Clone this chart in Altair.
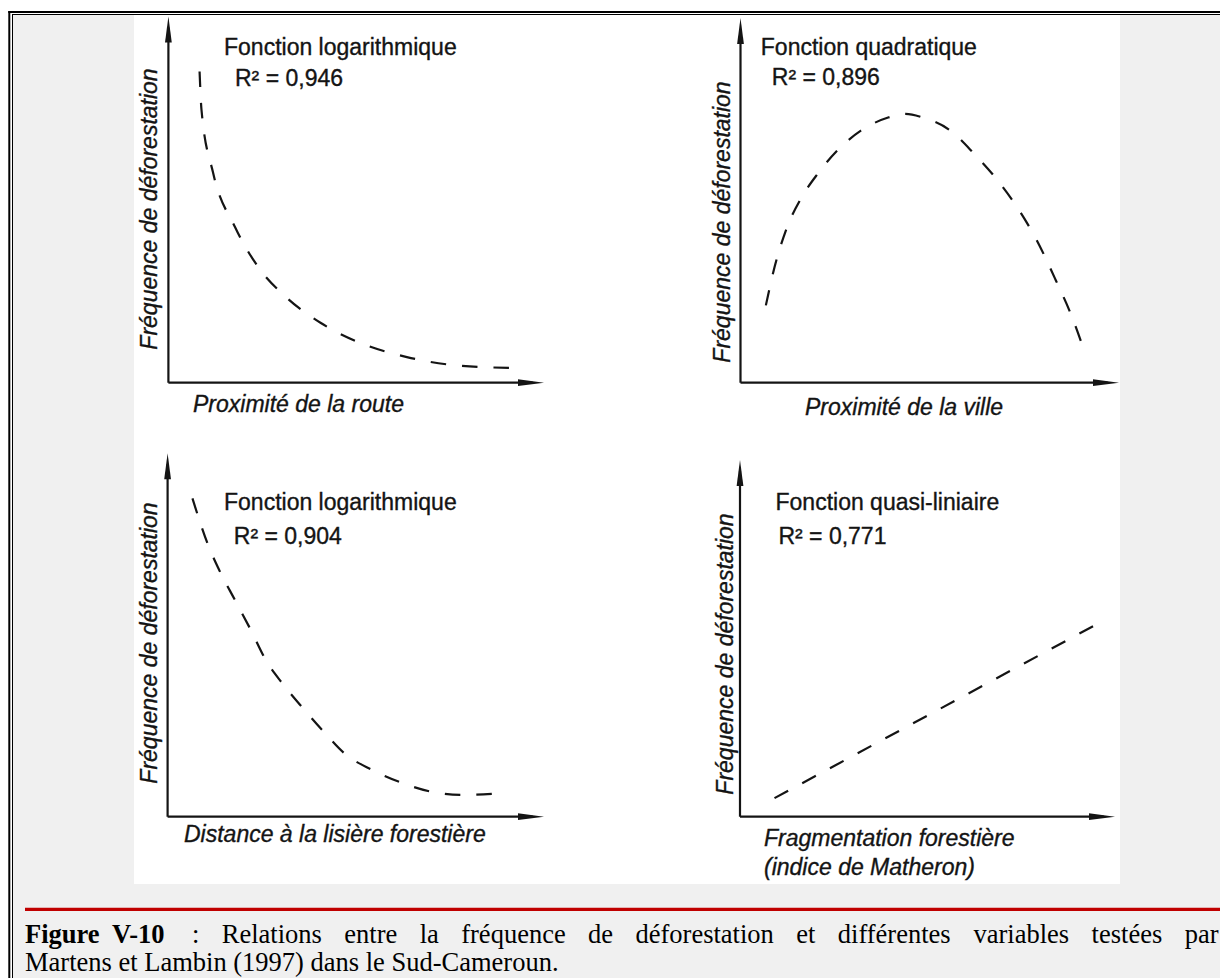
import altair as alt
import pandas as pd

W, H = 1212, 970  # chart size (page minus 8px margin)

# ---------------- data (panel units: 0..100, 100 = arrow tip) ----------------
tl_x = [8.3, 8.8, 11.9, 17.7, 23.9, 31.3, 40.6, 51.0, 63.5, 76.0, 91.7]
tl_y = [85.0, 74.6, 57.3, 42.6, 31.6, 23.4, 16.3, 10.9, 7.0, 4.8, 4.0]

tr_x = [6.7, 9.0, 12.0, 16.2, 20.4, 25.5, 31.8, 39.0, 43.6, 48.2, 55.5, 61.7, 68.0, 73.1, 78.3, 83.3, 87.6, 91.2]
tr_y = [21.2, 31.7, 41.8, 50.9, 57.3, 63.6, 69.1, 72.7, 73.7, 72.7, 69.1, 62.8, 55.4, 48.1, 39.0, 28.1, 18.0, 7.6]

bl_x = [6.6, 10.6, 13.7, 17.9, 22.1, 26.1, 30.4, 35.6, 41.8, 47.0, 54.3, 61.5, 69.9, 78.2, 88.0]
bl_y = [87.6, 75.2, 67.9, 59.6, 51.4, 43.1, 36.8, 30.3, 23.0, 17.4, 12.9, 9.6, 6.9, 6.0, 6.4]

br_x = [9.2, 95.9]
br_y = [5.2, 54.4]

titles = ["Fonction logarithmique", "Fonction quadratique", "Fonction logarithmique", "Fonction quasi-liniaire"]
r2_labels = ["R\u00b2 = 0,946", "R\u00b2 = 0,896", "R\u00b2 = 0,904", "R\u00b2 = 0,771"]
x_titles = ["Proximit\u00e9 de la route", "Proximit\u00e9 de la ville", "Distance \u00e0 la lisi\u00e8re foresti\u00e8re",
            "Fragmentation foresti\u00e8re", "(indice de Matheron)"]
y_title = "Fr\u00e9quence de d\u00e9forestation"

cap_words = ["Figure", "V-10", ":", "Relations", "entre", "la", "fr\u00e9quence", "de", "d\u00e9forestation",
             "et", "diff\u00e9rentes", "variables", "test\u00e9es", "par"]
cap_bold = [True, True] + [False] * 12
cap_line2 = "Martens et Lambin (1997) dans le Sud-Cameroun."

# ---------------- layout ----------------
GEOM = [
    (160.4, 374.7, 536.0, 8.5),
    (732.5, 374.7, 1111.0, 10.0),
    (159.6, 808.7, 536.0, 445.3),
    (732.0, 808.7, 1107.0, 452.0),
]
INK = "#141414"
SANS = "Liberation Sans"
SERIF = "Liberation Serif"
FS = 23
CFS = 26.5

ARROW_UP = "M 0 -1 L 0.26 1 L -0.26 1 Z"
ARROW_RIGHT = "M 1 0 L -1 -0.26 L -1 0.26 Z"


def panel(xs, ys, geom, interp):
    ox, oy, xt, yt = geom
    xsc = alt.Scale(domain=[0, 100], range=[ox, xt])
    ysc = alt.Scale(domain=[0, 100], range=[oy, yt])
    X = lambda f: alt.X(f, scale=xsc, axis=None)
    Y = lambda f: alt.Y(f, scale=ysc, axis=None)
    axes = alt.Chart(pd.DataFrame({"u": [0, 0], "v": [0, 0], "u2": [0, 97], "v2": [97, 0]})).mark_rule(
        color=INK, strokeWidth=2.2
    ).encode(x=X("u:Q"), y=Y("v:Q"), x2="u2:Q", y2="v2:Q")
    curve = alt.Chart(pd.DataFrame({"u": xs, "v": ys})).mark_line(
        color=INK, strokeWidth=2.2, strokeDash=[15.5, 16], interpolate=interp
    ).encode(x=X("u:Q"), y=Y("v:Q"))
    up = alt.Chart(pd.DataFrame({"u": [0], "v": [100]})).mark_point(
        shape=ARROW_UP, size=676, filled=True, color=INK, opacity=1, strokeWidth=0, yOffset=13
    ).encode(x=X("u:Q"), y=Y("v:Q"))
    right = alt.Chart(pd.DataFrame({"u": [100], "v": [0]})).mark_point(
        shape=ARROW_RIGHT, size=676, filled=True, color=INK, opacity=1, strokeWidth=0, xOffset=-13
    ).encode(x=X("u:Q"), y=Y("v:Q"))
    return alt.layer(axes, curve, up, right)


PX = alt.Scale(domain=[0, W], range=[0, W])
PY = alt.Scale(domain=[0, H], range=[0, H])


def pos(fx="px:Q", fy="py:Q"):
    return dict(x=alt.X(fx, scale=PX, axis=None), y=alt.Y(fy, scale=PY, axis=None))


rects = pd.DataFrame([
    dict(px=5, px2=W, py=7, py2=H, fill="#f0f0f0"),
    dict(px=126, px2=1112, py=7, py2=876, fill="#ffffff"),
    dict(px=0.3, px2=2.3, py=3, py2=H, fill="#000000"),
    dict(px=0.3, px2=W, py=3, py2=5, fill="#000000"),
    dict(px=4, px2=5, py=6, py2=H, fill="#000000"),
    dict(px=4, px2=W, py=6, py2=7, fill="#000000"),
    dict(px=17, px2=W, py=899.7, py2=903, fill="#c00000"),
])
bg = alt.Chart(rects).mark_rect(strokeWidth=0).encode(
    **pos(), x2="px2:Q", y2="py2:Q", color=alt.Color("fill:N", scale=None)
)

TXT = dict(color=INK, stroke=INK, strokeWidth=0.35)

t_pos = [(216, 47), (752.8, 47), (216, 502), (767.5, 502)]
r_pos = [(227, 78), (763.8, 77), (225.8, 536), (770.4, 536)]
tdf = pd.DataFrame(
    [dict(px=p[0], py=p[1], t=t) for p, t in zip(t_pos, titles)]
    + [dict(px=p[0], py=p[1], t=t) for p, t in zip(r_pos, r2_labels)]
)
ttext = alt.Chart(tdf).mark_text(font=SANS, fontSize=FS, align="left", baseline="alphabetic", **TXT).encode(
    **pos(), text="t:N"
)

xt_pos = [(185, 404), (797, 407), (176, 834), (756, 838), (756, 867)]
xdf = pd.DataFrame([dict(px=p[0], py=p[1], t=t) for p, t in zip(xt_pos, x_titles)])
xtext = alt.Chart(xdf).mark_text(
    font=SANS, fontSize=FS, fontStyle="italic", align="left", baseline="alphabetic", **TXT
).encode(**pos(), text="t:N")

yt_pos = [(148.7, 201), (722.3, 214), (148.7, 635), (725, 646)]
ydf = pd.DataFrame([dict(px=p[0], py=p[1], t=y_title) for p in yt_pos])
ytext = alt.Chart(ydf).mark_text(
    font=SANS, fontSize=FS, fontStyle="italic", align="center", baseline="alphabetic", angle=270, **TXT
).encode(**pos(), text="t:N")

# caption: justified first line
TR = dict(a=444, b=500, c=444, d=500, e=444, f=333, g=500, h=500, i=278, l=278, m=778, n=500, o=500,
          p=500, q=500, r=333, s=389, t=278, u=500, v=500)
TR.update({"\u00e9": 444, "\u00e8": 444, ":": 278, "-": 333, "R": 667})


def width(w):
    return sum(TR.get(ch, 500) for ch in w) / 1000 * CFS


x_right = 1210.5
lead_x = [17, 104, 184]  # "Figure", "V-10", ":"
rest = cap_words[3:]
prev_end = lead_x[2] + width(":")
widths = [width(w) for w in rest]
gap = (x_right - prev_end - sum(widths)) / len(rest)
xs_cap = list(lead_x)
cur = prev_end + gap
for wd in widths:
    xs_cap.append(cur)
    cur += wd + gap

cdf = pd.DataFrame(dict(px=xs_cap, py=[935] * len(cap_words), t=cap_words, b=cap_bold))
cap_b = alt.Chart(cdf[cdf.b]).mark_text(
    font=SERIF, fontSize=CFS, fontWeight="bold", align="left", baseline="alphabetic", color="#000"
).encode(**pos(), text="t:N")
cap_r = alt.Chart(pd.concat([cdf[~cdf.b], pd.DataFrame(dict(px=[17], py=[962.5], t=[cap_line2], b=[False]))])).mark_text(
    font=SERIF, fontSize=CFS, align="left", baseline="alphabetic", color="#000"
).encode(**pos(), text="t:N")

panels = [
    panel(tl_x, tl_y, GEOM[0], "monotone"),
    panel(tr_x, tr_y, GEOM[1], "monotone"),
    panel(bl_x, bl_y, GEOM[2], "monotone"),
    panel(br_x, br_y, GEOM[3], "linear"),
]

chart = alt.layer(bg, *panels, ttext, xtext, ytext, cap_b, cap_r).resolve_scale(
    x="independent", y="independent"
).properties(
    width=W, height=H, padding=0, autosize=alt.AutoSizeParams(type="none"), background="white"
).configure_view(stroke=None)

chart.save("out.html", embed_options={"renderer": "svg", "actions": False})
